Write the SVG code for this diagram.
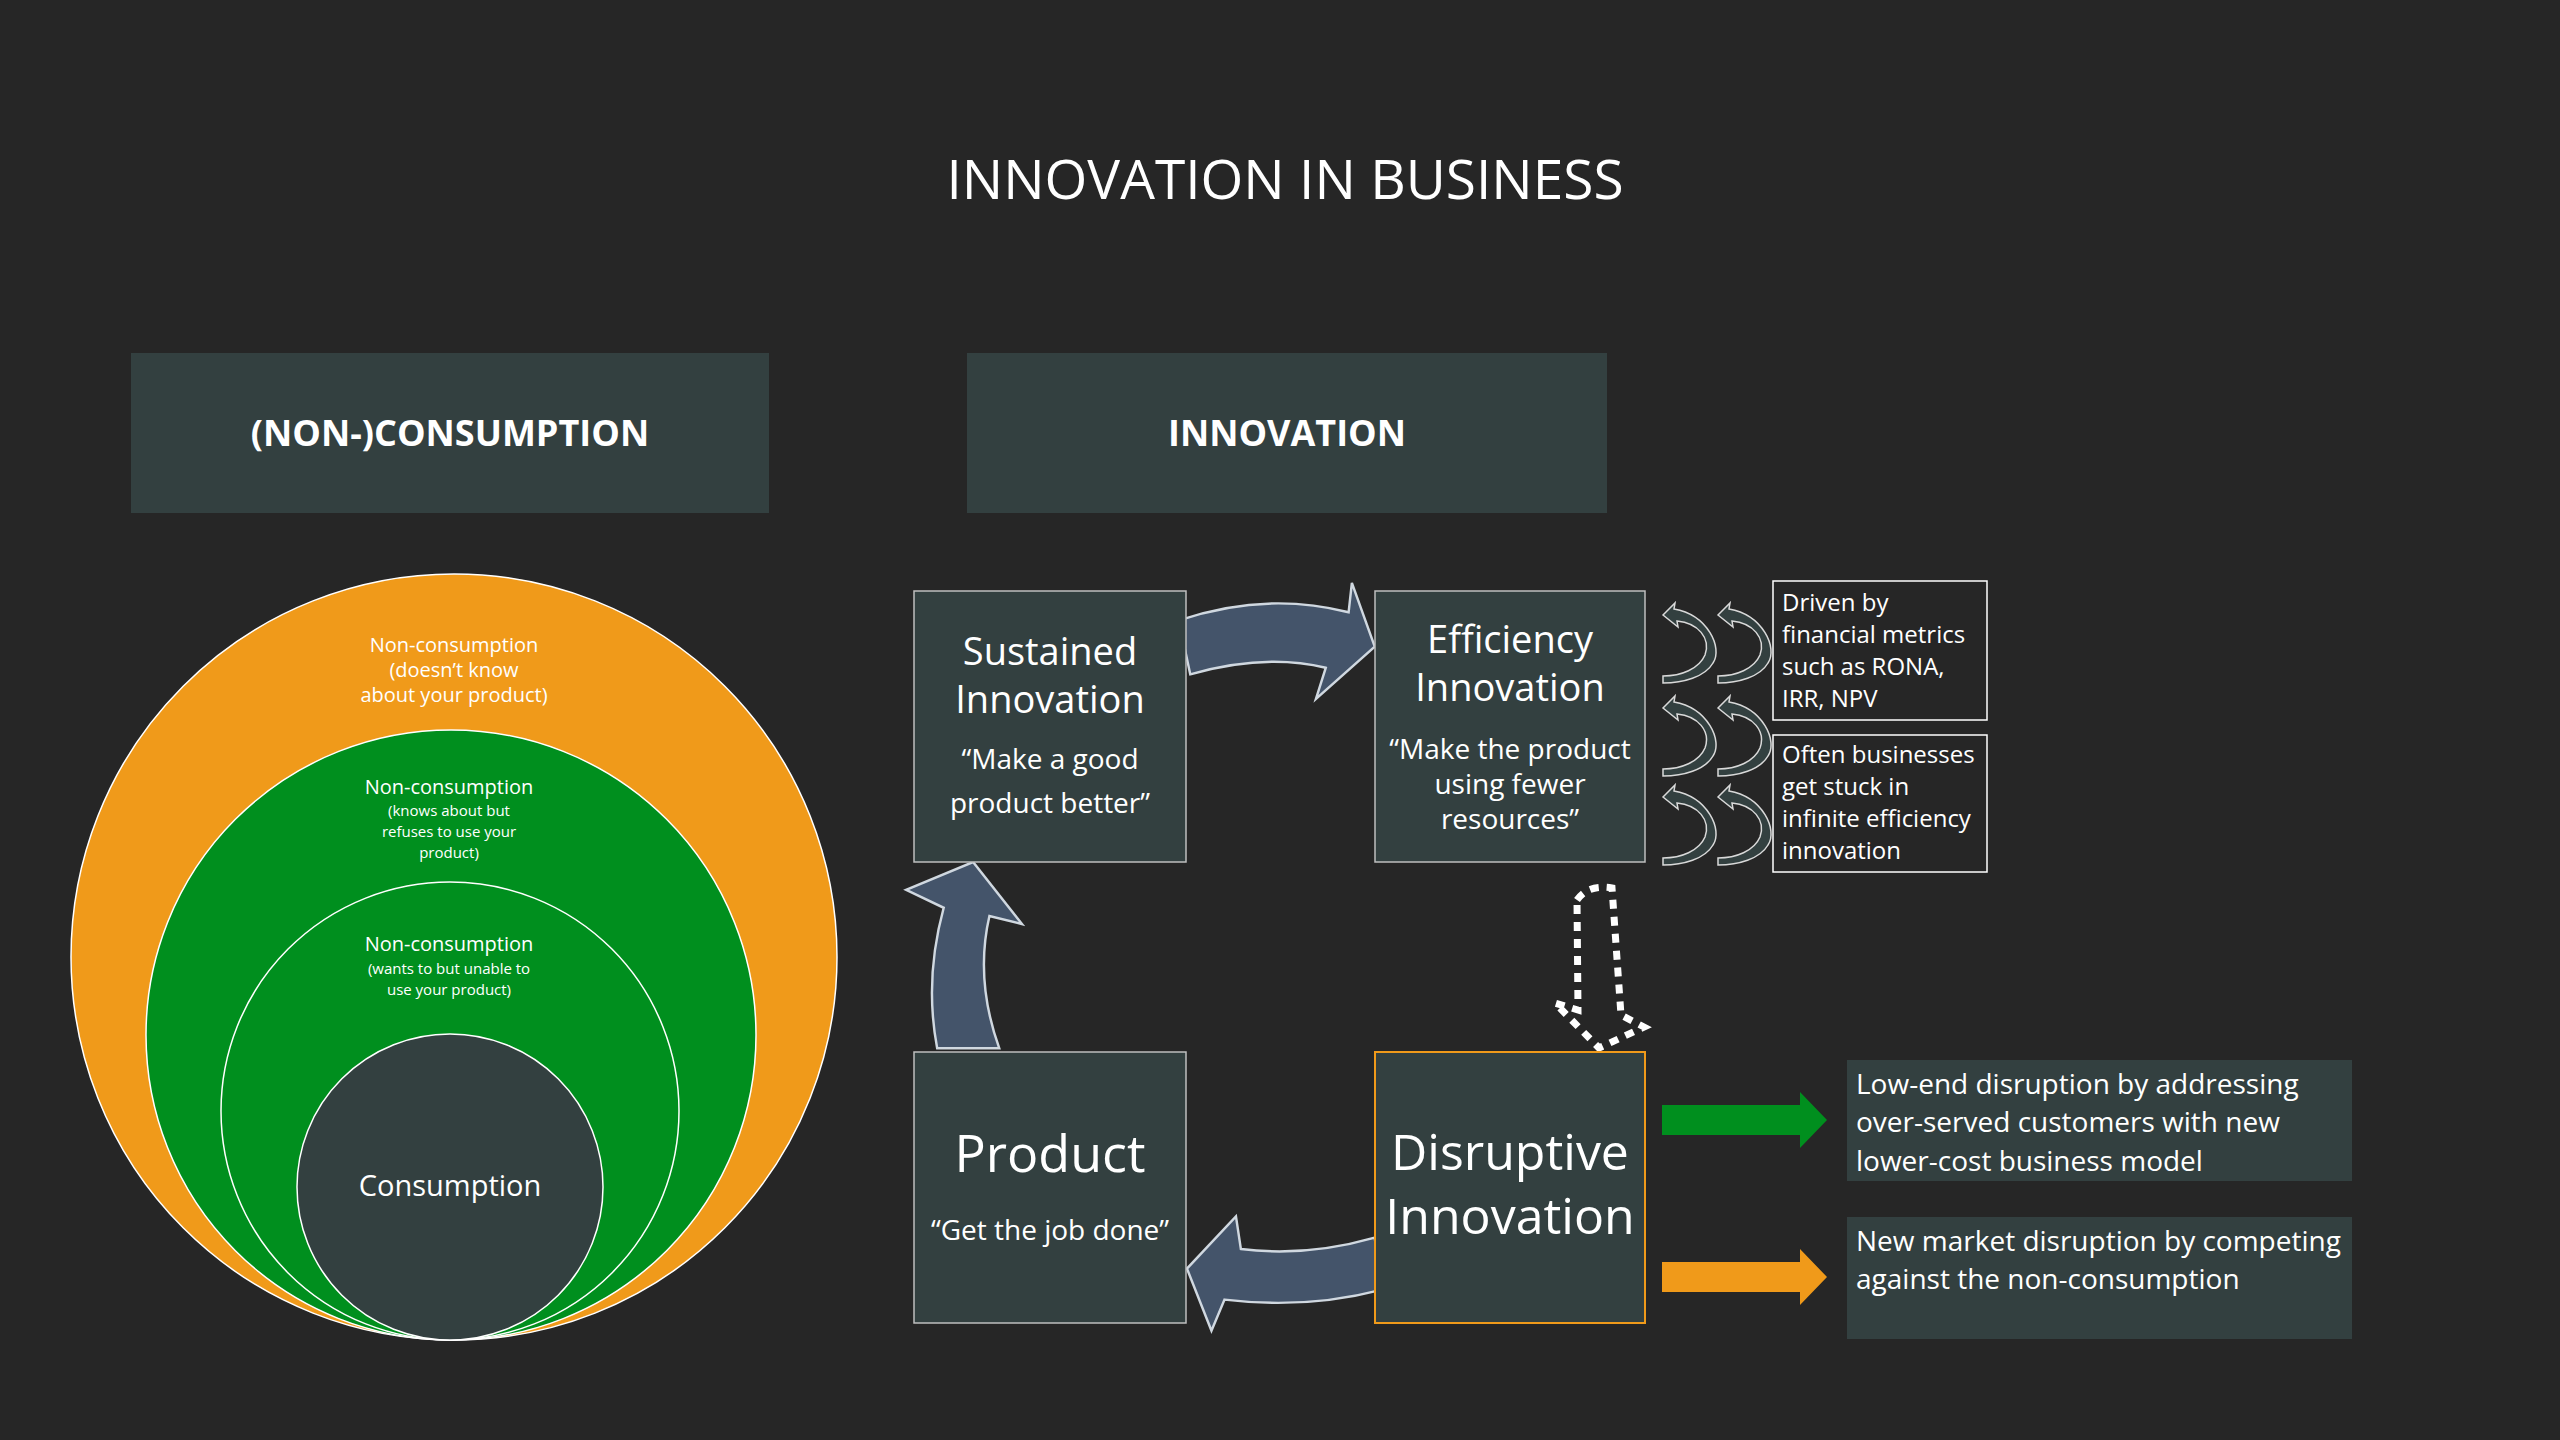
<svg xmlns="http://www.w3.org/2000/svg" xmlns:xlink="http://www.w3.org/1999/xlink" width="2560" height="1440" viewBox="0 0 2560 1440">
<style>
text{font-family:"Open Sans","Noto Sans","Liberation Sans",sans-serif;fill:#fff}
.node{fill:#334040;stroke:#bfbfbf;stroke-width:1.5}
.hdr{fill:#334040}
.ht{font-size:36px;font-weight:bold;text-anchor:middle}
.big{font-size:38px;text-anchor:middle}
.q{font-size:28px;text-anchor:middle}
.note{fill:#262626;stroke:#fff;stroke-width:1.5}
.nt{font-size:24px}
.rt{font-size:28px}
.blk{fill:#44546a;stroke:#d0d8e0;stroke-width:1.5}
.ca{fill:#334040;stroke:#d9d9d9;stroke-width:1.5}
.c{text-anchor:middle}
</style>
<defs>
<path id="curl" d="M0,12 L12,0 L11,6 C45,12 60,45 50,60 C42,74 20,80 0,80 L0,73 C18,73 36,66 42,52 C48,35 35,20 14,18 L15,24 Z"/>
</defs>
<rect width="2560" height="1440" fill="#262626"/>
<text x="1285" y="199" font-size="55" text-anchor="middle">INNOVATION IN BUSINESS</text>

<g id="hdr-consumption"><rect class="hdr" x="131" y="353" width="638" height="160"/><text class="ht" x="450" y="446">(NON-)CONSUMPTION</text></g>
<g id="hdr-innovation"><rect class="hdr" x="967" y="353" width="640" height="160"/><text class="ht" x="1287" y="446">INNOVATION</text></g>

<g id="circles">
<circle cx="454" cy="957" r="383" fill="#f09a1a" stroke="#fff" stroke-width="1.5"/>
<circle cx="451" cy="1035" r="305" fill="#008f1e" stroke="#fff" stroke-width="1.5"/>
<circle cx="450" cy="1111" r="229" fill="#008f1e" stroke="#fff" stroke-width="1.5"/>
<circle cx="450" cy="1187" r="153" fill="#334040" stroke="#fff" stroke-width="1.5"/>
<text class="c" font-size="20"><tspan x="454" y="652">Non-consumption</tspan><tspan x="454" y="677">(doesn’t know</tspan><tspan x="454" y="702">about your product)</tspan></text>
<text class="c" font-size="20" x="449" y="794">Non-consumption</text>
<text class="c" font-size="15"><tspan x="449" y="816">(knows about but</tspan><tspan x="449" y="837">refuses to use your</tspan><tspan x="449" y="858">product)</tspan></text>
<text class="c" font-size="20" x="449" y="951">Non-consumption</text>
<text class="c" font-size="15"><tspan x="449" y="974">(wants to but unable to</tspan><tspan x="449" y="995">use your product)</tspan></text>
<text class="c" font-size="29" x="450" y="1196">Consumption</text>
</g>

<g id="connectors">
<g transform="scale(1.6327)">
<path class="blk" d="M722,380 Q775,362 826,375 L828,357 L842,396 L806,428 L812,409 Q775,400 729,413 Z"/>
<path class="blk" d="M574,642 Q566,600 578,556 L555,545 L596,528 L626,566 L606,561 Q597,600 612,642 Z"/>
<path class="blk" d="M842,758 Q800,770 760,765 L757,745 L727,777 L742,815 L750,796 Q800,802 846,790 Z"/>
</g>
<path d="M1577,900 Q1588,884 1612,888 L1621,1015 L1644,1027 L1599,1048 L1555,1003 L1578,1010 Z" fill="none" stroke="#fff" stroke-width="7" stroke-dasharray="9 8"/>
<use href="#curl" class="ca" x="1663" y="603"/>
<use href="#curl" class="ca" x="1718" y="603"/>
<use href="#curl" class="ca" x="1663" y="696"/>
<use href="#curl" class="ca" x="1718" y="696"/>
<use href="#curl" class="ca" x="1663" y="785"/>
<use href="#curl" class="ca" x="1718" y="785"/>
<path d="M1662,1105 H1800 V1092 L1827,1120 L1800,1148 V1135 H1662 Z" fill="#008f1e"/>
<path d="M1662,1262 H1800 V1249 L1827,1277 L1800,1305 V1292 H1662 Z" fill="#f09a1a"/>
</g>

<g id="sustained"><rect class="node" x="914" y="591" width="272" height="271"/>
<text class="big"><tspan x="1050" y="665">Sustained</tspan><tspan x="1050" y="713">Innovation</tspan></text>
<text class="q"><tspan x="1050" y="769">“Make a good</tspan><tspan x="1050" y="813">product better”</tspan></text></g>
<g id="efficiency"><rect class="node" x="1375" y="591" width="270" height="271"/>
<text class="big"><tspan x="1510" y="653">Efficiency</tspan><tspan x="1510" y="701">Innovation</tspan></text>
<text class="q"><tspan x="1510" y="759">“Make the product</tspan><tspan x="1510" y="794">using fewer</tspan><tspan x="1510" y="829">resources”</tspan></text></g>
<g id="product"><rect class="node" x="914" y="1052" width="272" height="271"/>
<text x="1050" y="1172" font-size="52" text-anchor="middle">Product</text>
<text class="q" x="1050" y="1240">“Get the job done”</text></g>
<g id="disruptive"><rect x="1375" y="1052" width="270" height="271" fill="#334040" stroke="#f09a1a" stroke-width="2"/>
<text font-size="50" text-anchor="middle"><tspan x="1510" y="1170">Disruptive</tspan><tspan x="1510" y="1234">Innovation</tspan></text></g>

<g id="note-driven"><rect class="note" x="1773" y="581" width="214" height="139"/>
<text class="nt"><tspan x="1782" y="611">Driven by</tspan><tspan x="1782" y="643">financial metrics</tspan><tspan x="1782" y="675">such as RONA,</tspan><tspan x="1782" y="707">IRR, NPV</tspan></text></g>
<g id="note-stuck"><rect class="note" x="1773" y="735" width="214" height="137"/>
<text class="nt"><tspan x="1782" y="763">Often businesses</tspan><tspan x="1782" y="795">get stuck in</tspan><tspan x="1782" y="827">infinite efficiency</tspan><tspan x="1782" y="859">innovation</tspan></text></g>

<g id="lowend"><rect class="hdr" x="1847" y="1060" width="505" height="121"/>
<text class="rt"><tspan x="1856" y="1094">Low-end disruption by addressing</tspan><tspan x="1856" y="1132">over-served customers with new</tspan><tspan x="1856" y="1171">lower-cost business model</tspan></text></g>
<g id="newmarket"><rect class="hdr" x="1847" y="1217" width="505" height="122"/>
<text class="rt"><tspan x="1856" y="1251">New market disruption by competing</tspan><tspan x="1856" y="1289">against the non-consumption</tspan></text></g>
</svg>
